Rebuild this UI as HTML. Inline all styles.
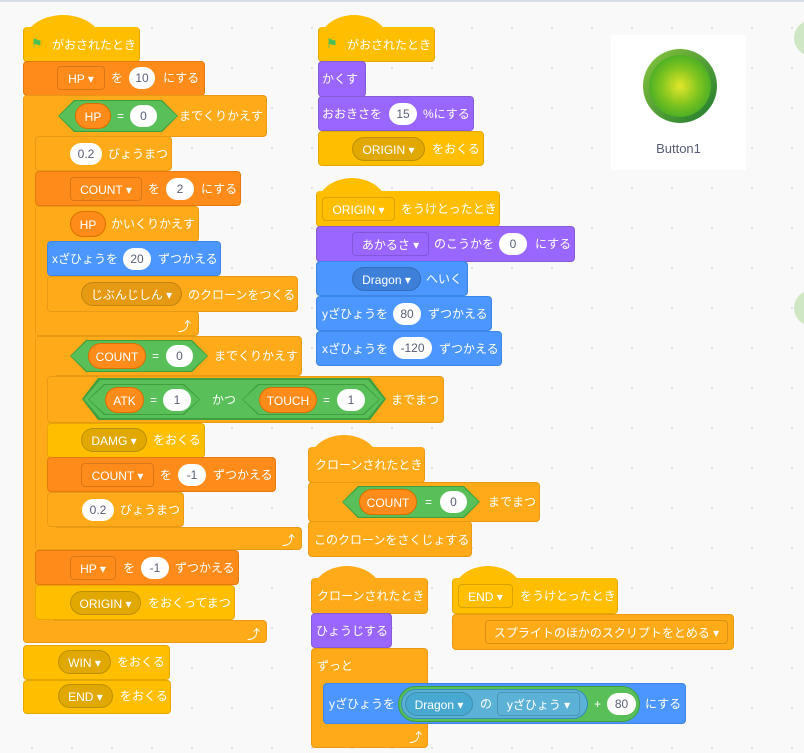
<!DOCTYPE html>
<html><head><meta charset="utf-8"><style>
body{margin:0;width:804px;height:753px;overflow:hidden;background-color:#f9f9f9;background-image:radial-gradient(circle,#dcdcdc 0.8px,transparent 1.2px);background-size:40px 40px;background-position:12px 8px;position:relative;font-family:"Liberation Sans","Noto Sans CJK JP",sans-serif}
.r{position:absolute;box-sizing:border-box;border-radius:4px;border:1px solid}
.Y{background:#ffbf00;border-color:#e6a800}.C{background:#ffab19;border-color:#e89a14}
.O{background:#ff8c1a;border-color:#e67a0c}.P{background:#9966ff;border-color:#855cd6}
.B{background:#4c97ff;border-color:#3d85e6}.G{background:#59c059;border-color:#3f9f3f}
.dome{position:absolute;height:30px;border-radius:50% 50% 0 0/100% 100% 0 0}
.t{position:absolute;color:#fff;font-size:12px;line-height:16px;white-space:nowrap}
.i{position:absolute;background:#fff;color:#575e75;height:22px;line-height:22px;border-radius:11px;font-size:12px;text-align:center}
.d{position:absolute;height:24px;line-height:24px;box-sizing:border-box;border:1px solid rgba(0,0,0,.15);border-radius:4px;color:#fff;font-size:12px;text-align:center;white-space:nowrap}
.rp{position:absolute;height:26px;line-height:26px;border-radius:13px;background:#ff8c1a;border:1px solid #db6e00;box-sizing:border-box;color:#fff;font-size:12px;text-align:center}
.hx{position:absolute;clip-path:polygon(0 50%,16px 0,calc(100% - 16px) 0,100% 50%,calc(100% - 16px) 100%,16px 100%)}
.fl{position:absolute;width:14px;height:12px;color:#4cbf56;font-size:13px;line-height:12px}
.ar{position:absolute;color:#fff;font-size:13px}
</style></head><body>
<div style="position:absolute;left:0;top:0;width:804px;height:2px;background:#d6dde6"></div>

<!-- LEFT SCRIPT -->
<div class="dome Y" style="left:23px;top:15px;width:80px;background:#ffbf00"></div>
<div class="r Y" style="left:23px;top:27px;width:117px;height:35px;border-top:none"></div>
<div class="fl" style="left:31px;top:38px">&#9873;</div>
<div class="t" style="left:52px;top:37px">がおされたとき</div>

<div class="r O" style="left:23px;top:61px;width:182px;height:35px"></div>
<div class="d" style="left:57px;top:66px;width:48px;background:#ff8c1a">HP ▾</div>
<div class="t" style="left:111px;top:70px">を</div>
<div class="i" style="left:129px;top:67px;width:26px">10</div>
<div class="t" style="left:163px;top:70px">にする</div>

<div class="r C" style="left:23px;top:95px;width:244px;height:42px"></div>
<div class="r C" style="left:23px;top:95px;width:13px;height:548px;border-radius:4px 0 0 4px"></div>
<div class="r C" style="left:23px;top:620px;width:244px;height:23px"></div>
<div style="position:absolute;left:24px;top:96px;width:30px;height:546px;background:#ffab19"></div>
<div class="hx" style="left:58px;top:100px;width:120px;height:32px;background:#3f9f3f"></div>
<div class="hx" style="left:59px;top:101px;width:118px;height:30px;background:#59c059"></div>
<div class="rp" style="left:75px;top:103px;width:36px">HP</div>
<div class="t" style="left:117px;top:108px">=</div>
<div class="i" style="left:130px;top:105px;width:27px">0</div>
<div class="t" style="left:179px;top:108px">までくりかえす</div>
<div class="ar" style="left:247px;top:624px">⤴</div>

<div class="r C" style="left:35px;top:136px;width:137px;height:35px"></div>
<div class="i" style="left:70px;top:143px;width:32px">0.2</div>
<div class="t" style="left:108px;top:146px">びょうまつ</div>

<div class="r O" style="left:35px;top:171px;width:206px;height:35px"></div>
<div class="d" style="left:70px;top:177px;width:72px;background:#ff8c1a">COUNT ▾</div>
<div class="t" style="left:148px;top:181px">を</div>
<div class="i" style="left:166px;top:178px;width:28px">2</div>
<div class="t" style="left:201px;top:181px">にする</div>

<div class="r C" style="left:35px;top:206px;width:164px;height:36px"></div>
<div class="r C" style="left:35px;top:206px;width:13px;height:130px"></div>
<div class="r C" style="left:35px;top:311px;width:164px;height:25px"></div>
<div style="position:absolute;left:36px;top:207px;width:20px;height:128px;background:#ffab19"></div>
<div class="rp" style="left:70px;top:211px;width:36px">HP</div>
<div class="t" style="left:111px;top:216px">かいくりかえす</div>
<div class="ar" style="left:178px;top:316px">⤴</div>

<div class="r B" style="left:47px;top:241px;width:174px;height:35px"></div>
<div class="t" style="left:52px;top:251px">xざひょうを</div>
<div class="i" style="left:123px;top:248px;width:28px">20</div>
<div class="t" style="left:158px;top:251px">ずつかえる</div>

<div class="r C" style="left:47px;top:276px;width:251px;height:36px"></div>
<div class="d" style="left:81px;top:282px;width:101px;background:#e69a14;border-radius:12px">じぶんじしん ▾</div>
<div class="t" style="left:188px;top:287px">のクローンをつくる</div>

<div class="r C" style="left:35px;top:336px;width:267px;height:40px"></div>
<div class="r C" style="left:35px;top:336px;width:13px;height:214px"></div>
<div class="r C" style="left:35px;top:527px;width:267px;height:23px"></div>
<div style="position:absolute;left:36px;top:337px;width:20px;height:212px;background:#ffab19"></div>
<div class="hx" style="left:70px;top:340px;width:138px;height:32px;background:#3f9f3f"></div>
<div class="hx" style="left:71px;top:341px;width:136px;height:30px;background:#59c059"></div>
<div class="rp" style="left:88px;top:343px;width:58px">COUNT</div>
<div class="t" style="left:152px;top:348px">=</div>
<div class="i" style="left:166px;top:345px;width:27px">0</div>
<div class="t" style="left:214px;top:348px">までくりかえす</div>
<div class="ar" style="left:282px;top:530px">⤴</div>

<div class="r C" style="left:47px;top:376px;width:397px;height:47px"></div>
<div class="hx" style="left:82px;top:378px;width:304px;height:42px;background:#3f9f3f"></div>
<div class="hx" style="left:84px;top:380px;width:300px;height:38px;background:#59c059"></div>
<div class="hx" style="left:88px;top:384px;width:112px;height:31px;background:#3f9f3f"></div>
<div class="hx" style="left:89px;top:385px;width:110px;height:29px;background:#59c059"></div>
<div class="rp" style="left:105px;top:387px;width:39px">ATK</div>
<div class="t" style="left:150px;top:392px">=</div>
<div class="i" style="left:163px;top:389px;width:28px">1</div>
<div class="t" style="left:212px;top:392px">かつ</div>
<div class="hx" style="left:242px;top:384px;width:138px;height:31px;background:#3f9f3f"></div>
<div class="hx" style="left:243px;top:385px;width:136px;height:29px;background:#59c059"></div>
<div class="rp" style="left:259px;top:387px;width:58px">TOUCH</div>
<div class="t" style="left:323px;top:392px">=</div>
<div class="i" style="left:337px;top:389px;width:28px">1</div>
<div class="t" style="left:391px;top:392px">までまつ</div>

<div class="r Y" style="left:47px;top:423px;width:158px;height:35px"></div>
<div class="d" style="left:81px;top:428px;width:66px;background:#e0a800;border-radius:12px">DAMG ▾</div>
<div class="t" style="left:153px;top:432px">をおくる</div>

<div class="r O" style="left:47px;top:457px;width:229px;height:35px"></div>
<div class="d" style="left:81px;top:463px;width:73px;background:#ff8c1a">COUNT ▾</div>
<div class="t" style="left:160px;top:467px">を</div>
<div class="i" style="left:178px;top:464px;width:28px">-1</div>
<div class="t" style="left:213px;top:467px">ずつかえる</div>

<div class="r C" style="left:47px;top:492px;width:137px;height:35px"></div>
<div class="i" style="left:82px;top:499px;width:32px">0.2</div>
<div class="t" style="left:120px;top:502px">びょうまつ</div>

<div class="r O" style="left:35px;top:550px;width:204px;height:35px"></div>
<div class="d" style="left:70px;top:556px;width:46px;background:#ff8c1a">HP ▾</div>
<div class="t" style="left:123px;top:560px">を</div>
<div class="i" style="left:141px;top:557px;width:28px">-1</div>
<div class="t" style="left:175px;top:560px">ずつかえる</div>

<div class="r Y" style="left:35px;top:585px;width:200px;height:35px"></div>
<div class="d" style="left:70px;top:591px;width:71px;background:#e0a800;border-radius:12px">ORIGIN ▾</div>
<div class="t" style="left:148px;top:595px">をおくってまつ</div>

<div class="r Y" style="left:23px;top:645px;width:147px;height:35px"></div>
<div class="d" style="left:58px;top:650px;width:53px;background:#e0a800;border-radius:12px">WIN ▾</div>
<div class="t" style="left:117px;top:654px">をおくる</div>

<div class="r Y" style="left:23px;top:680px;width:148px;height:34px"></div>
<div class="d" style="left:58px;top:684px;width:55px;background:#e0a800;border-radius:12px">END ▾</div>
<div class="t" style="left:120px;top:688px">をおくる</div>

<!-- MIDDLE SCRIPT 1 -->
<div class="dome" style="left:318px;top:15px;width:72px;background:#ffbf00"></div>
<div class="r Y" style="left:318px;top:27px;width:117px;height:35px;border-top:none"></div>
<div class="fl" style="left:326px;top:38px">&#9873;</div>
<div class="t" style="left:347px;top:37px">がおされたとき</div>
<div class="r P" style="left:318px;top:61px;width:48px;height:36px"></div>
<div class="t" style="left:322px;top:71px">かくす</div>
<div class="r P" style="left:318px;top:96px;width:156px;height:35px"></div>
<div class="t" style="left:322px;top:106px">おおきさを</div>
<div class="i" style="left:389px;top:103px;width:28px">15</div>
<div class="t" style="left:423px;top:106px">%にする</div>
<div class="r Y" style="left:318px;top:131px;width:166px;height:35px"></div>
<div class="d" style="left:352px;top:137px;width:73px;background:#e0a800;border-radius:12px">ORIGIN ▾</div>
<div class="t" style="left:432px;top:141px">をおくる</div>

<!-- MIDDLE SCRIPT 2 -->
<div class="dome" style="left:316px;top:178px;width:72px;background:#ffbf00"></div>
<div class="r Y" style="left:316px;top:191px;width:184px;height:36px;border-top:none"></div>
<div class="d" style="left:322px;top:197px;width:73px;background:#ffbf00">ORIGIN ▾</div>
<div class="t" style="left:401px;top:201px">をうけとったとき</div>
<div class="r P" style="left:316px;top:226px;width:259px;height:36px"></div>
<div class="d" style="left:352px;top:232px;width:77px;background:#9966ff">あかるさ ▾</div>
<div class="t" style="left:434px;top:236px">のこうかを</div>
<div class="i" style="left:499px;top:233px;width:28px">0</div>
<div class="t" style="left:535px;top:236px">にする</div>
<div class="r B" style="left:316px;top:261px;width:152px;height:35px"></div>
<div class="d" style="left:352px;top:267px;width:69px;background:#3d7fd9;border-radius:12px">Dragon ▾</div>
<div class="t" style="left:426px;top:271px">へいく</div>
<div class="r B" style="left:316px;top:296px;width:176px;height:35px"></div>
<div class="t" style="left:322px;top:306px">yざひょうを</div>
<div class="i" style="left:393px;top:303px;width:28px">80</div>
<div class="t" style="left:428px;top:306px">ずつかえる</div>
<div class="r B" style="left:316px;top:331px;width:186px;height:35px"></div>
<div class="t" style="left:322px;top:341px">xざひょうを</div>
<div class="i" style="left:393px;top:337px;width:39px">-120</div>
<div class="t" style="left:439px;top:341px">ずつかえる</div>

<!-- clone script 1 -->
<div class="dome" style="left:308px;top:435px;width:72px;background:#ffab19"></div>
<div class="r C" style="left:308px;top:447px;width:117px;height:36px;border-top:none"></div>
<div class="t" style="left:315px;top:457px">クローンされたとき</div>
<div class="r C" style="left:308px;top:482px;width:232px;height:40px"></div>
<div class="hx" style="left:342px;top:486px;width:138px;height:32px;background:#3f9f3f"></div>
<div class="hx" style="left:343px;top:487px;width:136px;height:30px;background:#59c059"></div>
<div class="rp" style="left:359px;top:489px;width:58px">COUNT</div>
<div class="t" style="left:425px;top:494px">=</div>
<div class="i" style="left:440px;top:491px;width:27px">0</div>
<div class="t" style="left:488px;top:494px">までまつ</div>
<div class="r C" style="left:308px;top:521px;width:164px;height:36px"></div>
<div class="t" style="left:314px;top:532px">このクローンをさくじょする</div>

<!-- clone script 2 -->
<div class="dome" style="left:311px;top:566px;width:72px;background:#ffab19"></div>
<div class="r C" style="left:311px;top:578px;width:117px;height:36px;border-top:none"></div>
<div class="t" style="left:317px;top:588px">クローンされたとき</div>
<div class="r P" style="left:311px;top:613px;width:81px;height:35px"></div>
<div class="t" style="left:316px;top:623px">ひょうじする</div>
<div class="r C" style="left:311px;top:648px;width:117px;height:100px"></div>
<div class="t" style="left:317px;top:658px">ずっと</div>
<div class="ar" style="left:409px;top:727px">⤴</div>
<div class="r B" style="left:323px;top:683px;width:363px;height:41px"></div>
<div class="t" style="left:329px;top:696px">yざひょうを</div>
<div style="position:absolute;left:398px;top:686px;width:242px;height:36px;border-radius:18px;background:#59c059;border:1px solid #3f9f3f;box-sizing:border-box"></div>
<div style="position:absolute;left:401px;top:689px;width:187px;height:30px;border-radius:15px;background:#5cb1d6;border:1px solid #2e8eb8;box-sizing:border-box"></div>
<div class="d" style="left:405px;top:692px;width:68px;background:#47a8d1;border-radius:12px">Dragon ▾</div>
<div class="t" style="left:480px;top:696px">の</div>
<div class="d" style="left:497px;top:692px;width:83px;background:#5cb1d6">yざひょう ▾</div>
<div class="t" style="left:594px;top:696px">+</div>
<div class="i" style="left:607px;top:693px;width:29px">80</div>
<div class="t" style="left:645px;top:696px">にする</div>

<!-- END script -->
<div class="dome" style="left:452px;top:566px;width:72px;background:#ffbf00"></div>
<div class="r Y" style="left:452px;top:578px;width:166px;height:36px;border-top:none"></div>
<div class="d" style="left:458px;top:584px;width:55px;background:#ffbf00">END ▾</div>
<div class="t" style="left:520px;top:588px">をうけとったとき</div>
<div class="r C" style="left:452px;top:614px;width:282px;height:36px"></div>
<div class="d" style="left:485px;top:620px;width:243px;background:#ffab19">スプライトのほかのスクリプトをとめる ▾</div>

<!-- sprite panel -->
<div style="position:absolute;left:611px;top:35px;width:135px;height:135px;background:#fff"></div>
<div style="position:absolute;left:643px;top:49px;width:74px;height:74px;border-radius:50%;background:linear-gradient(135deg,#8cc63f,#1d7a2e)"></div>
<div style="position:absolute;left:649px;top:55px;width:62px;height:62px;border-radius:50%;background:radial-gradient(circle at 50% 50%,#e4e62a 0%,#7cc31f 45%,#1b9a2c 100%)"></div>
<div style="position:absolute;left:611px;top:141px;width:135px;text-align:center;font-size:13px;color:#575e75">Button1</div>

<div style="position:absolute;left:794px;top:20px;width:36px;height:36px;border-radius:50%;background:#cfe7c5"></div>
<div style="position:absolute;left:794px;top:290px;width:36px;height:36px;border-radius:50%;background:#cfe7c5"></div>
</body></html>
